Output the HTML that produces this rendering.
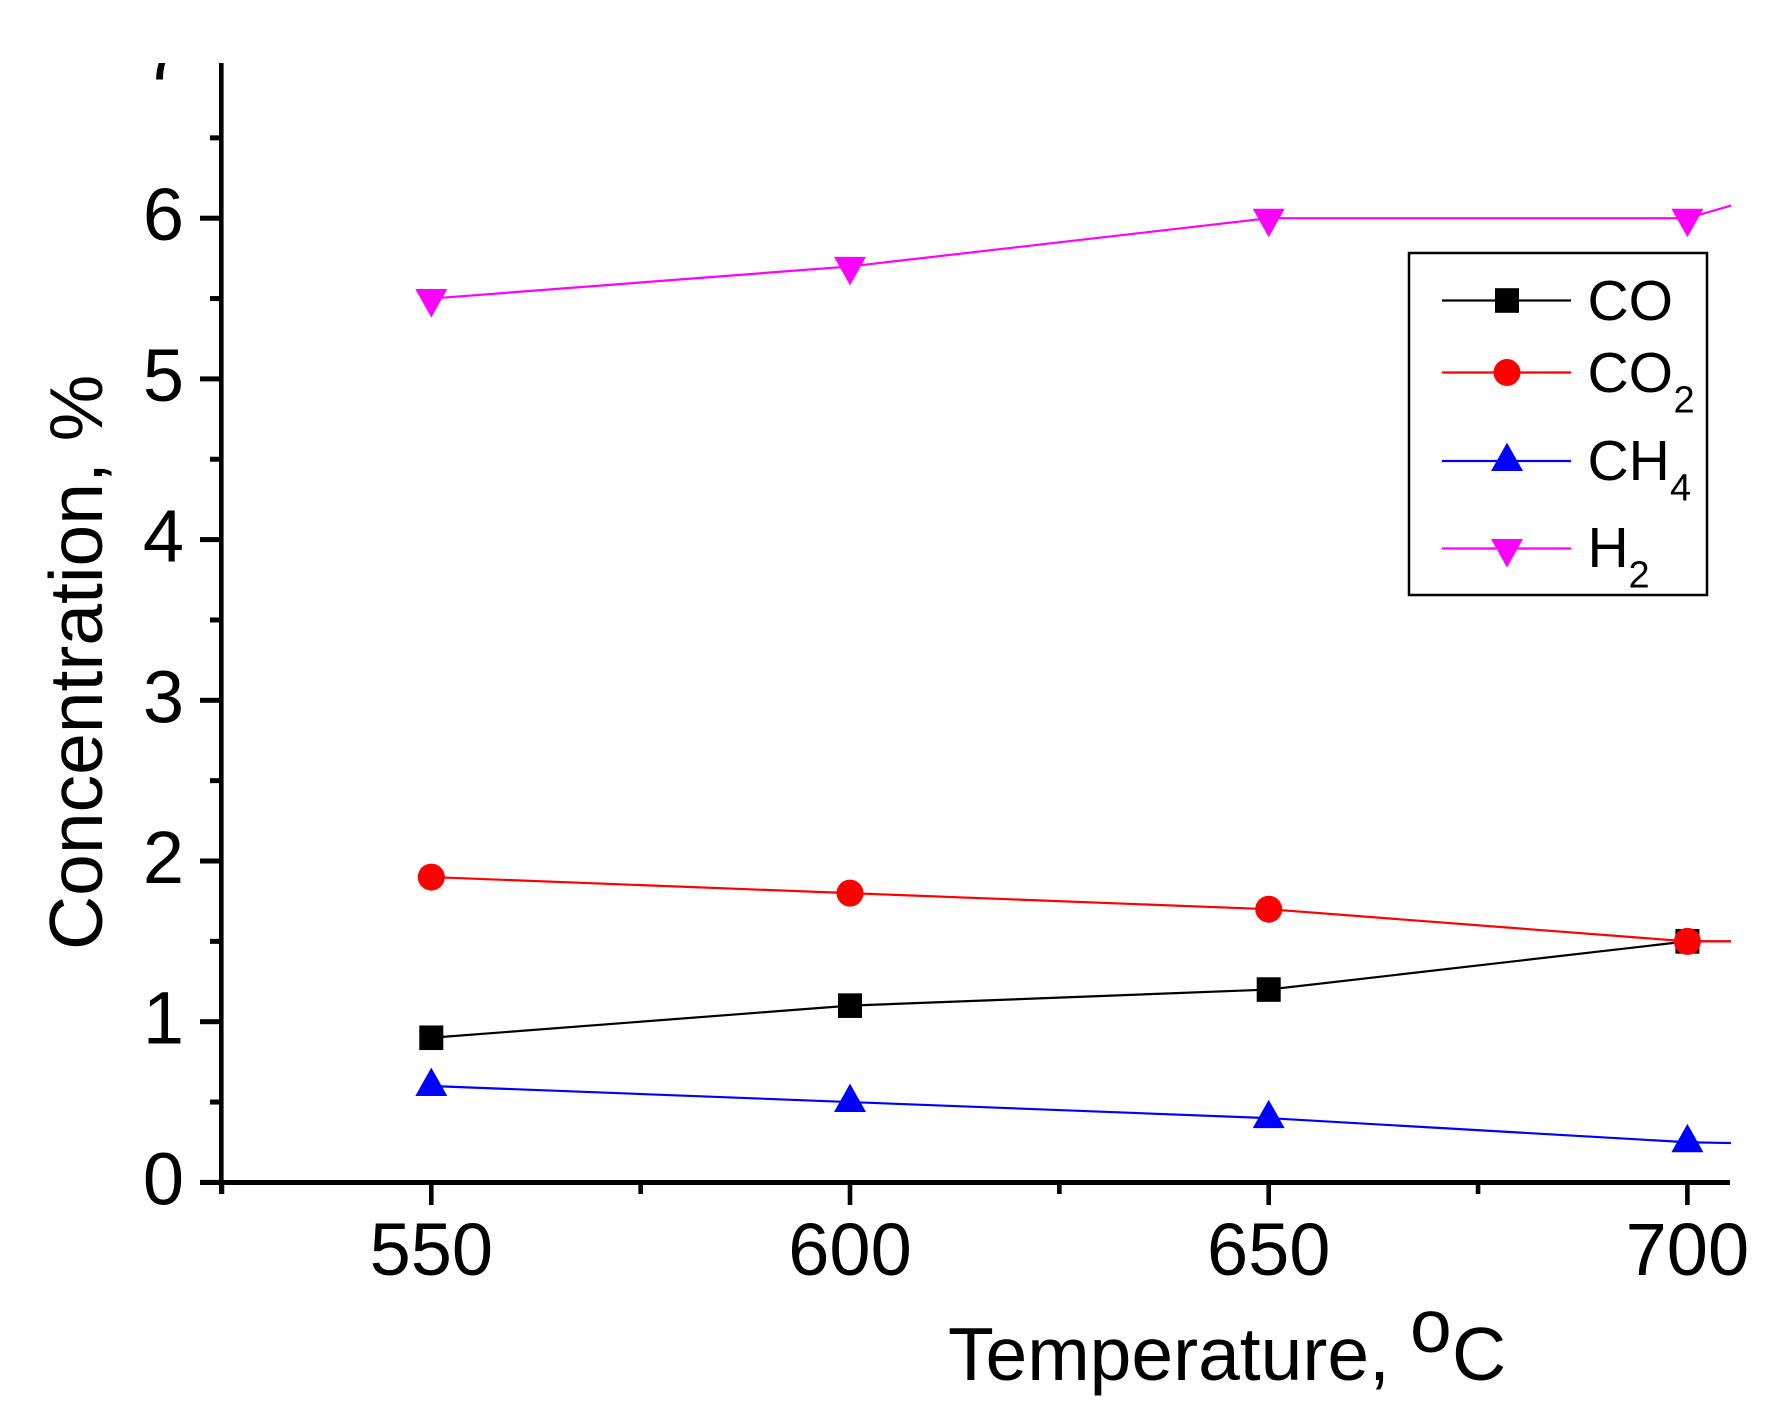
<!DOCTYPE html>
<html><head><meta charset="utf-8"><title>Concentration vs Temperature</title>
<style>html,body{margin:0;padding:0;background:#fff;width:1772px;height:1414px;overflow:hidden}
svg{display:block}text{font-family:"Liberation Sans",Arial,sans-serif;fill:#000}</style></head>
<body>
<svg id="chart" width="1772" height="1414" viewBox="0 0 1772 1414" xmlns="http://www.w3.org/2000/svg">
<defs>
<clipPath id="plot-clip"><rect x="100" y="63" width="1631" height="1200"/></clipPath>
<clipPath id="label-clip"><rect x="0" y="63" width="1772" height="1351"/></clipPath>
</defs>
<g id="series-layer" clip-path="url(#plot-clip)"></g>
<g id="axes-layer"></g>
<text transform="translate(102,950) rotate(-90)" font-size="75">Concentration, %</text>
<g font-size="75">
<text x="948" y="1380">Temperature,</text>
<text x="1410" y="1352">o</text>
<text x="1452" y="1380">C</text>
</g>
<g>
<rect x="1409" y="253" width="298" height="342" fill="#fff" stroke="#000" stroke-width="2.5"/>
<g id="legend-layer"></g>
</g>
</svg>
<script>
const temperatures = [550, 600, 650, 700, 750];
const coValues = [0.9, 1.1, 1.2, 1.5, 1.5];
const co2Values = [1.9, 1.8, 1.7, 1.5, 1.5];
const ch4Values = [0.6, 0.5, 0.4, 0.25, 0.2];
const h2Values = [5.5, 5.7, 6.0, 6.0, 6.75];
const yTickLabels = [0, 1, 2, 3, 4, 5, 6, 7];
const yMinorTicks = [0.5, 1.5, 2.5, 3.5, 4.5, 5.5, 6.5];
const xTickLabels = [550, 600, 650, 700];
const xMinorTicks = [525, 575, 625, 675];

const NS = 'http://www.w3.org/2000/svg';
const xScale = v => 431.3 + (v - 550) * 8.374;
const yScale = v => 1182.4 - v * 160.7;
const seriesLayer = document.getElementById('series-layer');
const axesLayer = document.getElementById('axes-layer');
const legendLayer = document.getElementById('legend-layer');

function make(tag, attrs, parent) {
  const el = document.createElementNS(NS, tag);
  for (const k in attrs) el.setAttribute(k, attrs[k]);
  parent.appendChild(el);
  return el;
}
function drawMarker(kind, cx, cy, color, parent) {
  if (kind === 'square') return make('rect', {x: cx - 12, y: cy - 12.3, width: 24, height: 24.6, fill: color}, parent);
  if (kind === 'circle') return make('circle', {cx: cx, cy: cy, r: 13.5, fill: color}, parent);
  if (kind === 'up') return make('polygon', {points: `${cx},${cy - 18.4} ${cx + 16},${cy + 10} ${cx - 16},${cy + 10}`, fill: color}, parent);
  return make('polygon', {points: `${cx - 16},${cy - 9.5} ${cx + 16},${cy - 9.5} ${cx},${cy + 19}`, fill: color}, parent);
}

const seriesList = [
  {id: 'co', values: coValues, color: '#000000', kind: 'square'},
  {id: 'co2', values: co2Values, color: '#ff0000', kind: 'circle'},
  {id: 'ch4', values: ch4Values, color: '#0000ff', kind: 'up'},
  {id: 'h2', values: h2Values, color: '#ff00ff', kind: 'down'}
];
seriesList.forEach(s => {
  const pts = s.values.map((v, i) => xScale(temperatures[i]) + ',' + yScale(v)).join(' ');
  const line = make('polyline', {points: pts, fill: 'none', stroke: s.color, 'stroke-width': 2.2}, seriesLayer);
  
  
  s.values.forEach((v, i) => {
    const m = drawMarker(s.kind, xScale(temperatures[i]), yScale(v), s.color, seriesLayer);
    
    
  });
});

const yAxisLine = make('rect', {x: 219, y: 63, width: 4.6, height: 1131, fill: '#000'}, axesLayer);


const xAxisLine = make('rect', {x: 200, y: 1180, width: 1530, height: 5, fill: '#000'}, axesLayer);



yTickLabels.forEach(v => {
  const y = yScale(v);
  if (v < 7) {
    const t = make('rect', {x: 200, y: y - 2.5, width: 21, height: 5, fill: '#000'}, axesLayer);
    
    
  }
  const label = make('text', {x: 184, y: y + 22, 'font-size': 74, 'text-anchor': 'end'}, axesLayer);
  if (v === 7) label.setAttribute('clip-path', 'url(#label-clip)');
  label.textContent = v;
  
  
});
yMinorTicks.forEach(v => {
  const t = make('rect', {x: 210, y: yScale(v) - 2.5, width: 11, height: 5, fill: '#000'}, axesLayer);
  
  
});
xTickLabels.forEach(v => {
  const x = xScale(v);
  const t = make('rect', {x: x - 2.3, y: 1182, width: 4.6, height: 23, fill: '#000'}, axesLayer);
  
  
  const label = make('text', {x: x, y: 1275, 'font-size': 74, 'text-anchor': 'middle'}, axesLayer);
  label.textContent = v;
  
  
});
xMinorTicks.forEach(v => {
  const t = make('rect', {x: xScale(v) - 2.3, y: 1182, width: 4.6, height: 12, fill: '#000'}, axesLayer);
  
  
});

const legendEntries = [
  {id: 'co', main: 'CO', sub: '', subX: 0, color: '#000000', kind: 'square', lineY: 300.5, base: 320},
  {id: 'co2', main: 'CO', sub: '2', subX: 1673.5, color: '#ff0000', kind: 'circle', lineY: 372.5, base: 392},
  {id: 'ch4', main: 'CH', sub: '4', subX: 1670, color: '#0000ff', kind: 'up', lineY: 461, base: 480},
  {id: 'h2', main: 'H', sub: '2', subX: 1628.5, color: '#ff00ff', kind: 'down', lineY: 548.5, base: 567}
];
legendEntries.forEach(e => {
  const l = make('line', {x1: 1442, x2: 1571, y1: e.lineY, y2: e.lineY, stroke: e.color, 'stroke-width': 2.2}, legendLayer);
  
  
  const m = drawMarker(e.kind, 1507, e.lineY, e.color, legendLayer);
  
  
  const t = make('text', {x: 1587.5, y: e.base, 'font-size': 57}, legendLayer);
  t.textContent = e.main;
  
  
  if (e.sub) {
    const s = make('text', {x: e.subX, y: e.base + 20.5, 'font-size': 38}, legendLayer);
    s.textContent = e.sub;
    
    
  }
});
</script>
</body></html>
